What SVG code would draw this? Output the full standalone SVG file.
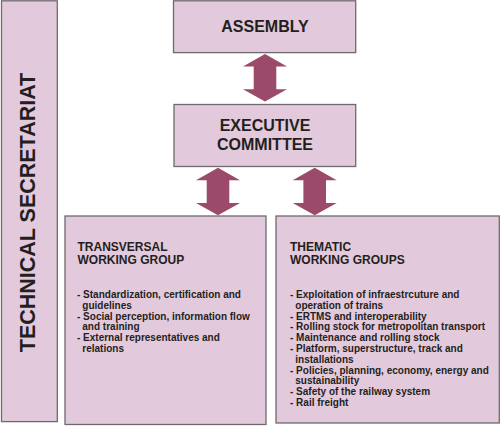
<svg xmlns="http://www.w3.org/2000/svg" width="500" height="426" viewBox="0 0 500 426">
<style>
.box{fill:#e3c9dc;stroke:#6e6a6d;stroke-width:1.3}
.arr{fill:#9c4a69}
text{font-family:"Liberation Sans",Arial,sans-serif;font-weight:bold;fill:#231f20}
.big{font-size:16px}
.side{font-size:21.5px}
.hd{font-size:12px}
.it{font-size:10px}
</style>
<defs>
<path id="dbl" d="M0,0 L22,12.5 L11.3,12.5 L11.3,35.3 L22,35.3 L0,47.5 L-22,35.3 L-11.3,35.3 L-11.3,12.5 L-22,12.5 Z"/>
</defs>
<rect width="500" height="426" fill="#ffffff"/>
<g id="connectors" class="arr">
<use href="#dbl" x="265" y="54"/>
<use href="#dbl" x="218" y="167.7"/>
<use href="#dbl" x="314.7" y="167.7"/>
</g>
<g id="technical-secretariat">
<rect class="box" x="1.5" y="0.8" width="55.8" height="420.8"/>
<text class="side" text-anchor="middle" transform="translate(35,212.5) rotate(-90)">TECHNICAL SECRETARIAT</text>
</g>
<g id="assembly">
<rect class="box" x="173.5" y="0.8" width="182.2" height="51.8"/>
<text class="big" x="265" y="32" text-anchor="middle">ASSEMBLY</text>
</g>
<g id="executive-committee">
<rect class="box" x="174" y="104.5" width="181.7" height="62"/>
<text class="big" x="265" y="131" text-anchor="middle">EXECUTIVE</text>
<text class="big" x="265" y="149.5" text-anchor="middle">COMMITTEE</text>
</g>
<g id="transversal-working-group">
<rect class="box" x="65" y="216" width="201" height="208.5"/>
<text class="hd" x="77.5" y="250.7">TRANSVERSAL</text>
<text class="hd" x="77.5" y="264.2">WORKING GROUP</text>
<text class="it" x="77" y="298">- Standardization, certification and</text>
<text class="it" x="82.3" y="308.8">guidelines</text>
<text class="it" x="77" y="319.6">- Social perception, information flow</text>
<text class="it" x="82.3" y="330.4">and training</text>
<text class="it" x="77" y="341.2">- External representatives and</text>
<text class="it" x="82.3" y="352">relations</text>
</g>
<g id="thematic-working-groups">
<rect class="box" x="276" y="216" width="223.3" height="207"/>
<text class="hd" x="290" y="250.7">THEMATIC</text>
<text class="hd" x="290" y="264.2">WORKING GROUPS</text>
<text class="it" x="290" y="298">- Exploitation of infraestrcuture and</text>
<text class="it" x="295.3" y="308.8">operation of trains</text>
<text class="it" x="290" y="319.5">- ERTMS and interoperability</text>
<text class="it" x="290" y="330.3">- Rolling stock for metropolitan transport</text>
<text class="it" x="290" y="341.1">- Maintenance and rolling stock</text>
<text class="it" x="290" y="351.9">- Platform, superstructure, track and</text>
<text class="it" x="295.3" y="362.7">installations</text>
<text class="it" x="290" y="373.5">- Policies, planning, economy, energy and</text>
<text class="it" x="295.3" y="384.3">sustainability</text>
<text class="it" x="290" y="395.1">- Safety of the railway system</text>
<text class="it" x="290" y="405.9">- Rail freight</text>
</g>
</svg>
